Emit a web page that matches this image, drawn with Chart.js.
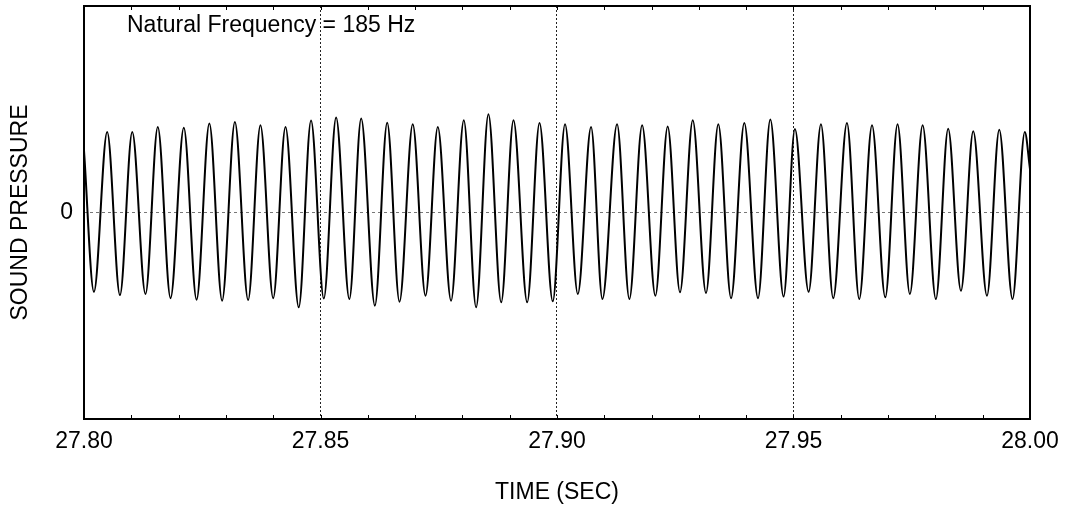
<!DOCTYPE html>
<html>
<head>
<meta charset="utf-8">
<script src="https://cdn.jsdelivr.net/npm/chart.js@4/dist/chart.umd.min.js"></script>
<style>
  html, body { margin: 0; padding: 0; background: #fff; }
  #wrap { width: 1067px; height: 508px; }
</style>
</head>
<body>
<div id="wrap"><canvas id="chart" width="1067" height="508"></canvas></div>
<script>
// time window and tick labels
const xMin = 27.80;
const xMax = 28.00;
const xTickLabels = ['27.80', '27.85', '27.90', '27.95', '28.00'];
const yTickValues = [0];
const noteText = 'Natural Frequency = 185 Hz';

// waveform: value at the window edges, then each trough / crest
const edgeTimes = [27.800, 28.000];
const edgeValues = [0.30, 0.21];

const troughTimes = [27.8021, 27.8076, 27.8130, 27.8183, 27.8238, 27.8292, 27.8347, 27.8400, 27.8454, 27.8507,
  27.8561, 27.8615, 27.8667, 27.8722, 27.8776, 27.8829, 27.8882, 27.8937, 27.8991, 27.9044,
  27.9096, 27.9153, 27.9208, 27.9260, 27.9315, 27.9368, 27.9425, 27.9479, 27.9532, 27.9584,
  27.9639, 27.9694, 27.9746, 27.9801, 27.9854, 27.9909, 27.9963];
const troughValues = [-0.384, -0.400, -0.395, -0.415, -0.422, -0.427, -0.424, -0.415, -0.459, -0.417,
  -0.419, -0.451, -0.432, -0.403, -0.427, -0.459, -0.435, -0.435, -0.430, -0.395,
  -0.419, -0.419, -0.403, -0.386, -0.390, -0.415, -0.415, -0.407, -0.384, -0.415,
  -0.419, -0.411, -0.395, -0.419, -0.379, -0.403, -0.419];

const peakTimes = [27.8049, 27.8102, 27.8156, 27.8211, 27.8265, 27.8319, 27.8373, 27.8426, 27.8480, 27.8533,
  27.8586, 27.8641, 27.8695, 27.8748, 27.8803, 27.8855, 27.8908, 27.8963, 27.9017, 27.9072,
  27.9127, 27.9180, 27.9234, 27.9287, 27.9341, 27.9396, 27.9451, 27.9503, 27.9558, 27.9613,
  27.9666, 27.9720, 27.9773, 27.9827, 27.9880, 27.9935, 27.9989];
const peakValues = [0.390, 0.390, 0.414, 0.411, 0.431, 0.438, 0.422, 0.414, 0.445, 0.460,
  0.455, 0.435, 0.427, 0.414, 0.447, 0.476, 0.447, 0.434, 0.427, 0.414,
  0.427, 0.422, 0.417, 0.447, 0.427, 0.433, 0.450, 0.404, 0.427, 0.433,
  0.422, 0.427, 0.422, 0.406, 0.393, 0.401, 0.390];

const points = [{ x: edgeTimes[0], y: edgeValues[0] }];
troughTimes.forEach((t, i) => {
  points.push({ x: t, y: troughValues[i] });
  points.push({ x: peakTimes[i], y: peakValues[i] });
});
points.push({ x: edgeTimes[1], y: edgeValues[1] });

const FONT = "'Liberation Sans', Arial, sans-serif";
const isLabelled = v => xTickLabels.includes(v.toFixed(2));
const isInner = v => v > xMin + 1e-6 && v < xMax - 1e-6;

const framePlugin = {
  id: 'frame',
  afterDraw(chart) {
    const { ctx, chartArea: { left, top, right, bottom }, scales: { x } } = chart;
    ctx.save();
    ctx.strokeStyle = '#000';
    ctx.lineWidth = 2;
    ctx.strokeRect(left, top, right - left, bottom - top);
    // small inward ticks every 0.01 s, top and bottom
    ctx.lineWidth = 1;
    ctx.beginPath();
    x.ticks.forEach(t => {
      const px = Math.round(x.getPixelForValue(t.value)) + 0.5;
      ctx.moveTo(px, bottom);
      ctx.lineTo(px, bottom - 4);
      ctx.moveTo(px, top);
      ctx.lineTo(px, top + 4);
    });
    ctx.stroke();
    ctx.fillStyle = '#000';
    ctx.font = '23px ' + FONT;
    ctx.textAlign = 'left';
    ctx.textBaseline = 'alphabetic';
    ctx.fillText(noteText, left + 43, top + 25.5);
    ctx.restore();
  }
};

new Chart(document.getElementById('chart'), {
  type: 'line',
  data: {
    datasets: [{
      data: points,
      borderColor: '#000',
      borderWidth: 2,
      pointRadius: 0,
      fill: false,
      cubicInterpolationMode: 'monotone'
    }]
  },
  options: {
    responsive: false,
    animation: false,
    devicePixelRatio: 1,
    layout: { padding: { top: 6, right: 37, left: 0, bottom: 0 } },
    plugins: { legend: { display: false }, tooltip: { enabled: false } },
    scales: {
      x: {
        type: 'linear',
        min: xMin,
        max: xMax,
        afterBuildTicks: scale => {
          const ticks = [];
          for (let i = 0; i <= 20; i++) ticks.push({ value: +(xMin + i * 0.01).toFixed(2) });
          scale.ticks = ticks;
        },
        afterFit: scale => {
          scale.height = 89;
          scale.paddingLeft = 0;
          scale.paddingRight = 0;
        },
        ticks: {
          autoSkip: false,
          maxRotation: 0,
          padding: 9,
          color: '#000',
          font: { family: FONT, size: 23 },
          callback: v => isLabelled(v) ? v.toFixed(2) : ''
        },
        grid: {
          drawTicks: false,
          lineWidth: 1,
          color: c => (c.tick && isLabelled(c.tick.value) && isInner(c.tick.value)) ? '#222' : 'rgba(0,0,0,0)'
        },
        border: { display: false, dash: [2, 2] },
        title: {
          display: true,
          text: 'TIME (SEC)',
          color: '#000',
          font: { family: FONT, size: 23 },
          padding: { top: 0, bottom: 2 }
        }
      },
      y: {
        min: -1,
        max: 1,
        afterBuildTicks: scale => { scale.ticks = yTickValues.map(v => ({ value: v })); },
        afterFit: scale => {
          scale.width = 84;
          scale.paddingTop = 0;
          scale.paddingBottom = 0;
        },
        ticks: {
          padding: 11,
          color: '#000',
          font: { family: FONT, size: 23 }
        },
        grid: { drawTicks: false, lineWidth: 1, color: '#777' },
        border: { display: false, dash: [3, 3] },
        title: {
          display: true,
          text: 'SOUND PRESSURE',
          color: '#000',
          font: { family: FONT, size: 23 },
          padding: { top: 7, bottom: 0 }
        }
      }
    }
  },
  plugins: [framePlugin]
});
</script>
</body>
</html>
